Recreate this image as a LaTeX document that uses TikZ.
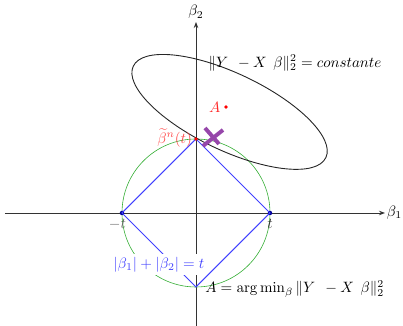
\documentclass[tikz,border=0pt]{standalone}
\usetikzlibrary{arrows.meta}
\definecolor{crosscol}{RGB}{150,70,170}
\begin{document}
\begin{tikzpicture}[x=0.6667pt,y=0.6667pt,
  axis/.style={draw=black!80,line width=0.6pt,-{Stealth[length=4pt,width=3pt]}},
  lasso/.style={draw=blue!75,line width=0.7pt},
  vtx/.style={circle,fill=blue!60!black,inner sep=0pt,minimum size=3pt},
  redpt/.style={circle,fill=red,inner sep=0pt,minimum size=2.6pt}]
\useasboundingbox (-196,-113) rectangle (207,213);
% axes
\coordinate (xs) at (-191,0); \coordinate (xe) at (189,0);
\coordinate (ys) at (0,-113); \coordinate (ye) at (0,191);
\draw[axis] (xs) -- (xe);
\draw[axis] (ys) -- (ye);
\node[anchor=west,inner sep=1pt] (b1) at (xe) {$\beta_1$};
\node[anchor=south,inner sep=2pt] (b2) at (ye) {$\beta_2$};
% circle
\node[circle,draw=green!60!black!80,line width=0.4pt,minimum size=148*0.6667pt,inner sep=0pt] (circ) at (0,0) {};
% ellipse
\draw[black!85,line width=0.6pt,rotate around={-25.4:(34,102)}] (34,101) ellipse [x radius=106.6, y radius=38.5];
% diamond
\node[vtx] (r) at (74,0) {};
\node[vtx] (l) at (-74,0) {};
\coordinate (u) at (0,74);
\coordinate (d) at (0,-74);
\draw[lasso] (r.center) -- (u) -- (l.center) -- (d) -- cycle;
% labels
\node[anchor=north,inner sep=2pt,text=black!80] (tl) at (r.south) {$t$};
\node[anchor=north,inner sep=2pt,text=black!60] (mtl) at ([xshift=-3]l.south) {$-t$};
\node[fill=white,text=blue!75,inner sep=2pt] (lab) at (-37,-52) {$|\beta_1|+|\beta_2|=t$};
\node[anchor=west,inner sep=0pt] (argmin) at (9,-76) {$A=\arg\min_{\beta}\|Y\;\,-X\;\,\beta\|_2^2$};
\node (const) at (99,150) {$\|Y\;\,-X\;\,\beta\|_2^2=constante$};
% points
\node[redpt] (A) at (30,106) {};
\node[text=red!85,anchor=east,inner sep=2pt] (Alab) at (A.west) {$A$};
\node[redpt] (bt) at (u) {};
\node[text=red!70,anchor=east,inner sep=1pt] (btlab) at ([yshift=1]bt.west) {$\widetilde{\beta}^n(t)$};
% purple cross
\draw[crosscol,line width=2.6pt] (9,85) -- (23,69);
\draw[crosscol,line width=2.6pt] (27,83) -- (7,67);
\end{tikzpicture}
\end{document}
